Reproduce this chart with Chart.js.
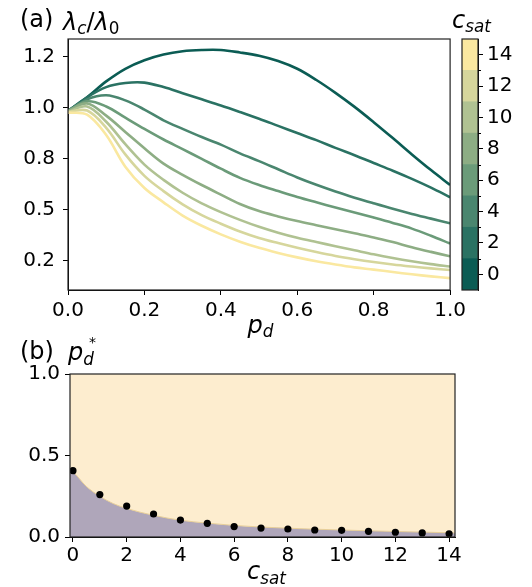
<!DOCTYPE html>
<html><head><meta charset="utf-8">
<script src="https://cdn.jsdelivr.net/npm/chart.js@4.4.1/dist/chart.umd.min.js"></script>
<style>
html,body{margin:0;padding:0;background:#fff;width:532px;height:587px;overflow:hidden;font-family:"DejaVu Sans";}
.box{position:absolute;}
.lbl{position:absolute;white-space:nowrap;line-height:1;color:#000;font-family:"DejaVu Sans";font-size:24px;}
.it{font-style:italic;}
.sub{font-size:0.7em;position:relative;top:0.28em;}
</style></head><body>
<div class="box" style="left:0;top:0;width:470px;height:345px"><canvas id="cA"></canvas></div>
<div class="box" style="left:440px;top:0;width:92px;height:345px"><canvas id="cC"></canvas></div>
<div class="box" style="left:0;top:330px;width:470px;height:257px"><canvas id="cB"></canvas></div>

<div class="lbl" style="left:20px;top:6.7px">(a)</div>
<div class="lbl" style="left:63px;top:9.7px"><span class="it">λ</span><span class="sub it">c</span>/<span class="it">λ</span><span class="sub">0</span></div>
<div class="lbl" style="left:452px;top:7.7px"><span class="it">c</span><span class="sub it">sat</span></div>
<div class="lbl" style="left:0;width:521px;text-align:center;top:312.7px"><span class="it">p</span><span class="sub it">d</span></div>
<div class="lbl" style="left:20px;top:338.7px">(b)</div>
<div class="lbl" style="left:68px;top:340px"><span class="it">p</span><span class="sub it">d</span></div>
<div class="lbl" style="left:89px;top:335px;font-size:14px">*</div>
<div class="lbl" style="left:0;width:533px;text-align:center;top:559px"><span class="it">c</span><span class="sub it">sat</span></div>

<script>
// ---------- data (panel a) ----------
const pd = [0,0.05,0.1,0.15,0.2,0.25,0.3,0.35,0.4,0.45,0.5,0.55,0.6,0.65,0.7,0.75,0.8,0.85,0.9,0.95,1.0];
const cSat = [0,2,4,6,8,10,12,14];
const lamC0  = [0.983,1.05,1.128,1.19,1.232,1.26,1.276,1.282,1.282,1.27,1.254,1.228,1.19,1.135,1.072,1.003,0.928,0.85,0.77,0.693,0.62];
const lamC2  = [0.983,1.05,1.10,1.12,1.122,1.10,1.07,1.04,1.01,0.978,0.945,0.91,0.875,0.84,0.802,0.766,0.728,0.69,0.65,0.607,0.56];
const lamC4  = [0.983,1.04,1.06,1.035,0.99,0.937,0.895,0.855,0.818,0.775,0.737,0.697,0.657,0.621,0.588,0.558,0.53,0.503,0.478,0.455,0.432];
const lamC6  = [0.983,1.03,1.005,0.95,0.895,0.843,0.796,0.748,0.70,0.655,0.62,0.59,0.561,0.535,0.51,0.485,0.46,0.434,0.406,0.371,0.333];
const lamC8  = [0.983,1.02,0.96,0.88,0.80,0.725,0.67,0.62,0.573,0.527,0.492,0.466,0.443,0.423,0.403,0.383,0.363,0.34,0.315,0.292,0.27];
const lamC10 = [0.98,1.005,0.93,0.82,0.72,0.645,0.582,0.53,0.487,0.449,0.415,0.386,0.361,0.34,0.32,0.30,0.28,0.262,0.246,0.232,0.22];
const lamC12 = [0.978,0.985,0.90,0.77,0.665,0.59,0.525,0.472,0.43,0.392,0.36,0.335,0.312,0.291,0.272,0.256,0.242,0.23,0.22,0.211,0.203];
const lamC14 = [0.975,0.965,0.865,0.71,0.605,0.535,0.47,0.42,0.378,0.342,0.312,0.287,0.265,0.246,0.23,0.216,0.205,0.193,0.182,0.172,0.163];
const lamSeries = [lamC0,lamC2,lamC4,lamC6,lamC8,lamC10,lamC12,lamC14];
const cmapColors = ['#0b5c54','#2a7263','#4a866f','#6b9b79','#8dad84','#b0c292','#d6d69c','#fae8a0'];
const xTickVals = [0,0.2,0.4,0.6,0.8,1.0];
const xTickLabels = ['0.0','0.2','0.4','0.6','0.8','1.0'];
const yTickVals = [0.25,0.5,0.75,1.0,1.25];
const yTickLabels = ['0.2','0.5','0.8','1.0','1.2'];
const cbTickVals = [0,2,4,6,8,10,12,14];
const cbBounds = [1,3,5,7,9,11,13];

// ---------- data (panel b) ----------
const cVals = [0,1,2,3,4,5,6,7,8,9,10,11,12,13,14];
const pStar = [0.407,0.26,0.19,0.141,0.104,0.084,0.064,0.055,0.049,0.043,0.041,0.035,0.029,0.025,0.02];
const fitC = [-0.11,0,0.5,1,1.5,2,3,4,5,6,7,8,9,10,11,12,13,14,14.22];
const fitP = [0.41,0.40,0.31,0.25,0.205,0.175,0.133,0.103,0.085,0.071,0.061,0.054,0.048,0.043,0.038,0.034,0.03,0.026,0.025];
const bxTickVals = [0,2,4,6,8,10,12,14];
const byTickVals = [0,0.5,1.0];
const byTickLabels = ['0.0','0.5','1.0'];

const FONT = {family:'DejaVu Sans', size:20};
const boxPlugin = {
  id:'boxPlugin',
  afterDatasetsDraw(chart){
    const a = chart.chartArea, ctx = chart.ctx;
    ctx.save(); ctx.strokeStyle = '#222'; ctx.lineWidth = 1.2;
    ctx.strokeRect(a.left, a.top, a.right-a.left, a.bottom-a.top);
    ctx.restore();
  }
};
function axisCommon(){
  return {
    grid:{display:true, drawOnChartArea:false, drawTicks:true, tickLength:5, tickColor:'#000', tickWidth:1},
    border:{display:true, color:'#000', width:1}
  };
}

// ---------- chart A ----------
new Chart(document.getElementById('cA'), {
  type:'line',
  data:{datasets: lamSeries.map((s,i)=>({
    label:'c_sat='+cSat[i],
    data: pd.map((p,j)=>({x:p, y:s[j]})),
    borderColor: cmapColors[i], borderWidth:2.6, pointRadius:0,
    tension:0.35, fill:false, order: 7-i
  }))},
  options:{
    responsive:true, maintainAspectRatio:false, animation:false,
    layout:{padding:{left:0, top:39, right:17, bottom:0}},
    plugins:{legend:{display:false}, tooltip:{enabled:false}},
    scales:{
      x:{type:'linear', min:0, max:1, ...axisCommon(),
        afterBuildTicks:s=>{s.ticks = xTickVals.map(v=>({value:v}));},
        afterFit:s=>{s.height = 55;},
        ticks:{font:FONT, color:'#000', padding:4, maxRotation:0,
          callback:(v,i)=>xTickLabels[i]}},
      y:{type:'linear', min:0.105, max:1.336, ...axisCommon(),
        afterBuildTicks:s=>{s.ticks = yTickVals.map(v=>({value:v}));},
        afterFit:s=>{s.width = 68;},
        ticks:{font:FONT, color:'#000', padding:8,
          callback:(v,i)=>yTickLabels[i]}}
    }
  },
  plugins:[boxPlugin]
});

// ---------- colorbar ----------
const cbMinor = {
  id:'cbMinor',
  afterDatasetsDraw(chart){
    const a = chart.chartArea, ctx = chart.ctx, y = chart.scales.y;
    ctx.save(); ctx.strokeStyle = '#000'; ctx.lineWidth = 1;
    cbBounds.forEach(v=>{
      const py = Math.round(y.getPixelForValue(v))+0.5;
      ctx.beginPath(); ctx.moveTo(a.right, py); ctx.lineTo(a.right+3, py); ctx.stroke();
    });
    ctx.restore();
  }
};
new Chart(document.getElementById('cC'), {
  type:'bar',
  data:{labels:['c'], datasets: cSat.map((c,i)=>({
    label:String(c), data:[[c-1,c+1]], backgroundColor:cmapColors[i],
    borderWidth:0, barPercentage:1, categoryPercentage:1
  }))},
  options:{
    responsive:true, maintainAspectRatio:false, animation:false,
    layout:{padding:{left:22, top:39, right:0, bottom:55}},
    plugins:{legend:{display:false}, tooltip:{enabled:false}},
    scales:{
      x:{display:false, stacked:true},
      y:{position:'right', min:-1, max:15, ...axisCommon(),
        afterBuildTicks:s=>{s.ticks = cbTickVals.map(v=>({value:v}));},
        afterFit:s=>{s.width = 54;},
        ticks:{font:FONT, color:'#000', padding:4}}
    }
  },
  plugins:[boxPlugin, cbMinor]
});

// ---------- chart B ----------
new Chart(document.getElementById('cB'), {
  type:'line',
  data:{datasets:[
    {label:'p*', data:cVals.map((c,i)=>({x:c,y:pStar[i]})), showLine:false,
      pointRadius:3.6, pointBackgroundColor:'#000', pointBorderWidth:0, order:0},
    {label:'lower', data:fitC.map((c,i)=>({x:c,y:fitP[i]})), fill:'origin',
      backgroundColor:'#afa6ba', borderColor:'#e8cf98', borderWidth:1, pointRadius:0,
      cubicInterpolationMode:'monotone', order:1},
    {label:'upper', data:fitC.map((c,i)=>({x:c,y:fitP[i]})), fill:'end',
      backgroundColor:'#fdedcf', borderWidth:0, pointRadius:0,
      cubicInterpolationMode:'monotone', order:2}
  ]},
  options:{
    responsive:true, maintainAspectRatio:false, animation:false,
    layout:{padding:{left:0, top:44, right:15, bottom:0}},
    plugins:{legend:{display:false}, tooltip:{enabled:false}},
    scales:{
      x:{type:'linear', min:-0.11, max:14.22, ...axisCommon(),
        afterBuildTicks:s=>{s.ticks = bxTickVals.map(v=>({value:v}));},
        afterFit:s=>{s.height = 50;},
        ticks:{font:FONT, color:'#000', padding:2, maxRotation:0}},
      y:{type:'linear', min:0, max:1, ...axisCommon(),
        afterBuildTicks:s=>{s.ticks = byTickVals.map(v=>({value:v}));},
        afterFit:s=>{s.width = 70;},
        ticks:{font:FONT, color:'#000', padding:5,
          callback:(v,i)=>byTickLabels[i]}}
    }
  },
  plugins:[boxPlugin]
});
</script>
</body></html>
